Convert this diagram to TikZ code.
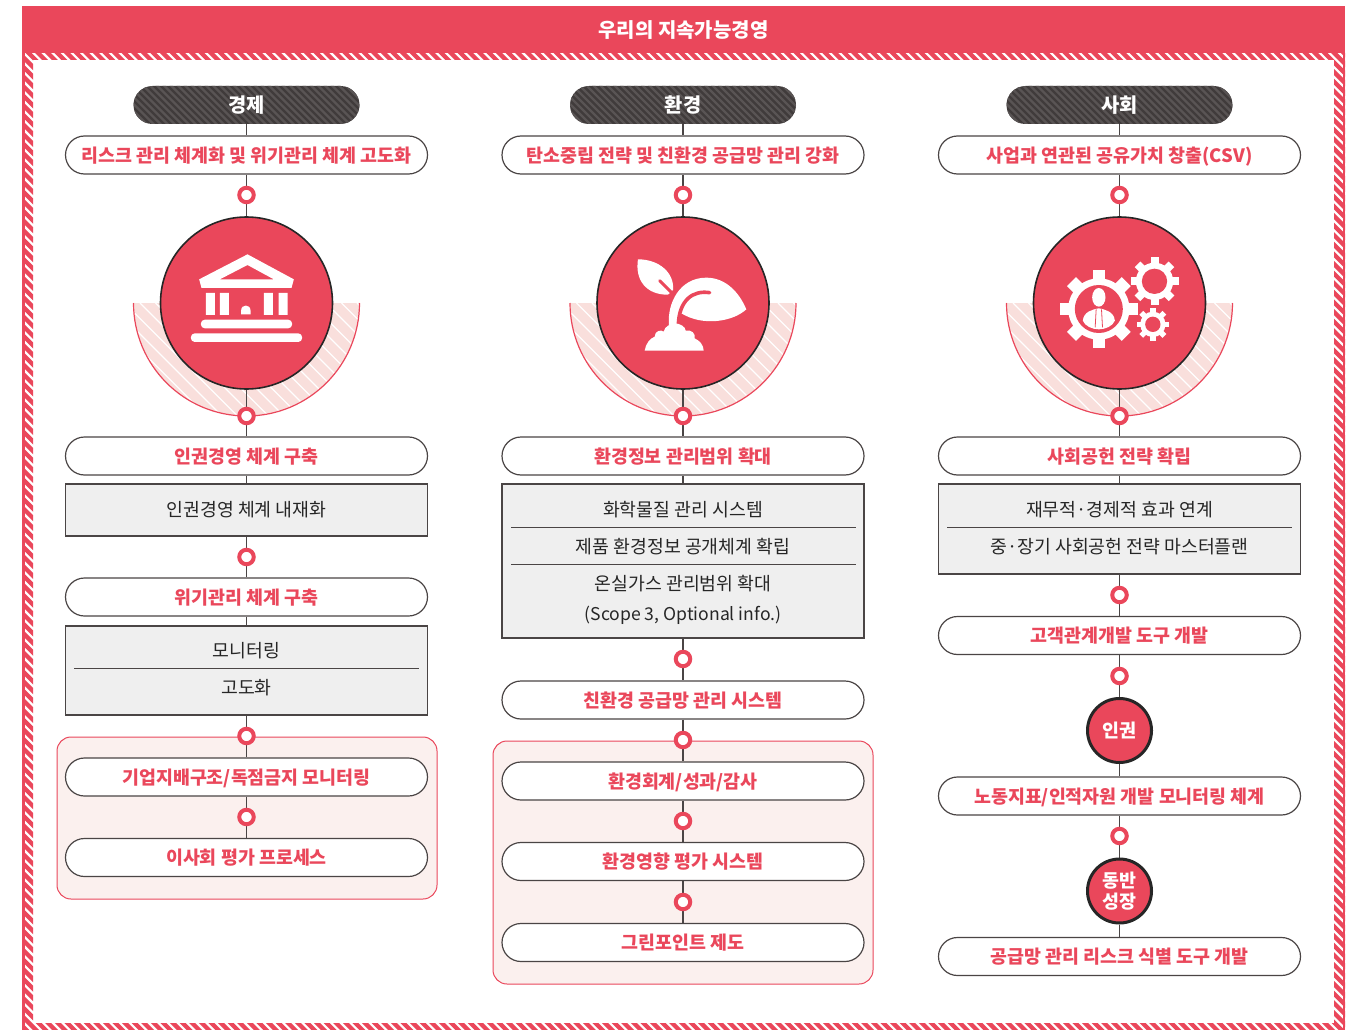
\documentclass[tikz,border=0pt]{standalone}
\usepackage{fontspec}
\setmainfont{Noto Sans CJK KR}
\usetikzlibrary{calc}
\definecolor{hred}{HTML}{EA475B}
\definecolor{hline}{HTML}{4A4545}
\definecolor{hdark}{HTML}{403B3B}
\definecolor{hstripe}{HTML}{595454}
\definecolor{hgray}{HTML}{EFEFEF}
\definecolor{hpanel}{HTML}{FBF0EE}
\definecolor{hhalf}{HTML}{F9DFDC}
\pgfdeclarelayer{under}
\pgfdeclarelayer{conn}
\pgfsetlayers{under,conn,main}
\tikzset{
  pillbox/.style={draw=hline,line width=1.2pt,fill=white,rounded corners=19pt,minimum width=362pt,minimum height=38pt,inner sep=0pt,
    text=hred,font=\fontsize{18.4}{18.4}\selectfont\bfseries,text height=16.5pt,text depth=2.5pt},
  toppill/.style={pillbox,text height=17.5pt},
  headpill/.style={fill=hdark,rounded corners=19pt,minimum width=226pt,minimum height=38pt,inner sep=0pt,text=white,
    font=\fontsize{19.8}{19.8}\selectfont\bfseries,text height=17.5pt,text depth=2.5pt,
    path picture={\foreach \i in {-18,...,18}{\draw[hstripe,line width=2.4pt] ($(path picture bounding box.center)+(\i*7-40,-40)$) -- ++(80,80);}}},
  ringnode/.style={circle,draw=hred,line width=4pt,fill=white,minimum size=14.5pt,inner sep=0pt},
  greybox/.style={draw=hline,line width=1.2pt,fill=hgray,minimum width=362pt,inner sep=0pt},
  rowtext/.style={inner sep=0pt,text=black!85,font=\fontsize{18.3}{18.3}\selectfont,text height=16.5pt,text depth=2.5pt},
  bigdisc/.style={circle,draw=black!85,line width=1.6pt,fill=hred,minimum size=172pt,inner sep=0pt},
  smalldisc/.style={circle,draw=black!85,line width=3pt,fill=hred,minimum size=64pt,inner sep=0pt,text=white,
    font=\fontsize{18.4}{21.5}\selectfont\bfseries,align=center},
  panelbox/.style={draw=hred,line width=1pt,fill=hpanel,rounded corners=14pt,minimum width=380pt,inner sep=0pt},
  linkline/.style={draw=hline,line width=1.2pt},
  seprule/.style={draw=hline,line width=0.9pt}
}
\newcommand{\halfdisc}[1]{%
  \begin{scope}
    \clip (#1-113,303) arc[start angle=180,end angle=360,radius=113pt] -- cycle;
    \fill[hhalf] (#1-114,303) rectangle (#1+114,417);
    \foreach \i in {-20,...,20}{\draw[white,line width=1.3pt] (#1+\i*15.5-60,303) -- ++(120,120);}
  \end{scope}
  \draw[hred,line width=1.2pt] (#1-113,303) arc[start angle=180,end angle=360,radius=113pt];
}
\newcommand{\gearicon}[6]{% cx cy outer root hole toothhalf
  \foreach \a in {0,45,90,135}{
    \fill[white,rotate around={\a:(#1,#2)}] (#1-#6,#2-#3) rectangle (#1+#6,#2+#3);
  }
  \fill[white] (#1,#2) circle[radius=#4];
  \fill[hred] (#1,#2) circle[radius=#5];
}
\begin{document}
\begin{tikzpicture}[x=1pt,y=-1pt]
\useasboundingbox (0,0) rectangle (1358,1030);
\begin{pgfonlayer}{under}
\fill[white] (0,0) rectangle (1358,1030);
\end{pgfonlayer}
% header and striped frame
\node[fill=hred,minimum width=1323pt,minimum height=47pt,inner sep=0pt,text=white,font=\fontsize{20}{20}\selectfont\bfseries,text height=18pt,text depth=3pt] (title) at (683.5,30) {우리의 지속가능경영};
\begin{scope}
  \clip (22,53) rectangle (1345,60) (22,53) rectangle (33,1030) (1334,53) rectangle (1345,1030) (22,1023) rectangle (1345,1030);
  \foreach \i in {0,...,250}{\draw[hred,line width=4.3pt] ({-1040+\i*9.6},50) -- ++(985,985);}
\end{scope}
\fill[hred] (22,53) rectangle (24.5,1030);
\fill[hred] (1342.5,53) rectangle (1345,1030);
% column 1
\begin{pgfonlayer}{under}
  \halfdisc{246.5}\halfdisc{683}\halfdisc{1119.5}
  \node[panelbox,minimum height=162pt] (p1) at (247,818) {};
  \node[panelbox,minimum height=243pt] (p2) at (683,862.5) {};
\end{pgfonlayer}
\node[headpill] (a0) at (246.5,105) {경제};
\node[toppill] (a1) at (246.5,155) {리스크 관리 체계화 및 위기관리 체계 고도화};
\node[ringnode] (a2) at (246.5,195) {};
\node[bigdisc] (a3) at (246.5,303) {};
\node[ringnode] (a4) at (246.5,416) {};
\node[pillbox] (a5) at (246.5,456) {인권경영 체계 구축};
\node[greybox,minimum height=52pt] (a6) at (246.5,510) {};
\node[rowtext] (a6t) at (246.5,509) {인권경영 체계 내재화};
\node[ringnode] (a7) at (246.5,557) {};
\node[pillbox] (a8) at (246.5,597) {위기관리 체계 구축};
\node[greybox,minimum height=89pt] (a9) at (246.5,670.5) {};
\draw[seprule] (74,668) -- (419,668);
\node[rowtext] (a9t) at (246.5,650) {모니터링};
\node[rowtext] (a9u) at (246.5,687) {고도화};
\node[ringnode] (a10) at (246.5,736) {};
\node[pillbox] (a11) at (246.5,777) {기업지배구조/독점금지 모니터링};
\node[ringnode] (a12) at (246.5,817) {};
\node[pillbox] (a13) at (246.5,857.5) {이사회 평가 프로세스};
% column 2
\node[headpill] (b0) at (683,105) {환경};
\node[toppill] (b1) at (683,155) {탄소중립 전략 및 친환경 공급망 관리 강화};
\node[ringnode] (b2) at (683,195) {};
\node[bigdisc] (b3) at (683,303) {};
\node[ringnode] (b4) at (683,416) {};
\node[pillbox] (b5) at (683,456) {환경정보 관리범위 확대};
\node[greybox,minimum height=154pt] (b6) at (683,561) {};
\draw[seprule] (511,527) -- (856,527);
\draw[seprule] (511,564) -- (856,564);
\node[rowtext] (b6t) at (683,509) {화학물질 관리 시스템};
\node[rowtext] (b6u) at (683,546) {제품 환경정보 공개체계 확립};
\node[rowtext] (b6v) at (683,583) {온실가스 관리범위 확대};
\node[rowtext,font=\fontsize{17.6}{18}\selectfont] (b6w) at (683,613) {(Scope 3, Optional info.)};
\node[ringnode] (b7) at (683,659) {};
\node[pillbox] (b8) at (683,700) {친환경 공급망 관리 시스템};
\node[ringnode] (b9) at (683,740) {};
\node[pillbox] (b10) at (683,781) {환경회계/성과/감사};
\node[ringnode] (b11) at (683,821) {};
\node[pillbox] (b12) at (683,861.5) {환경영향 평가 시스템};
\node[ringnode] (b13) at (683,902) {};
\node[pillbox] (b14) at (683,942.5) {그린포인트 제도};
% column 3
\node[headpill] (c0) at (1119.5,105) {사회};
\node[toppill] (c1) at (1119.5,155) {사업과 연관된 공유가치 창출(CSV)};
\node[ringnode] (c2) at (1119.5,195) {};
\node[bigdisc] (c3) at (1119.5,303) {};
\node[ringnode] (c4) at (1119.5,416) {};
\node[pillbox] (c5) at (1119.5,456) {사회공헌 전략 확립};
\node[greybox,minimum height=90pt] (c6) at (1119.5,529) {};
\draw[seprule] (947,527) -- (1292,527);
\node[rowtext] (c6t) at (1119.5,509) {재무적·경제적 효과 연계};
\node[rowtext] (c6u) at (1119.5,546) {중·장기 사회공헌 전략 마스터플랜};
\node[ringnode] (c7) at (1119.5,595) {};
\node[pillbox] (c8) at (1119.5,635.5) {고객관계개발 도구 개발};
\node[ringnode] (c9) at (1119.5,676) {};
\node[smalldisc] (c10) at (1119.5,730.5) {인권};
\node[pillbox] (c11) at (1119.5,796) {노동지표/인적자원 개발 모니터링 체계};
\node[ringnode] (c12) at (1119.5,836) {};
\node[smalldisc] (c13) at (1119.5,891) {동반\\성장};
\node[pillbox] (c14) at (1119.5,956.5) {공급망 관리 리스크 식별 도구 개발};
% connectors
\begin{pgfonlayer}{conn}
  \foreach \u/\v in {a0/a1,a1/a2,a2/a3,a3/a4,a4/a5,a5/a6,a6/a7,a7/a8,a8/a9,a9/a10,a10/a11,a11/a12,a12/a13,
                     b0/b1,b1/b2,b2/b3,b3/b4,b4/b5,b5/b6,b6/b7,b7/b8,b8/b9,b9/b10,b10/b11,b11/b12,b12/b13,b13/b14,
                     c0/c1,c1/c2,c2/c3,c3/c4,c4/c5,c5/c6,c6/c7,c7/c8,c8/c9,c9/c10,c10/c11,c11/c12,c12/c13,c13/c14}{
    \draw[linkline] (\u.south) -- (\v.north);
  }
\end{pgfonlayer}
% bank icon
\begin{scope}[shift={(246.5-380/3,303-279/3)},scale=1/3]
  \fill[white,even odd rule] (383,133) -- (522,208) -- (515,234) -- (245,234) -- (238,208) -- cycle (383,165) -- (462,208) -- (300,208) -- cycle;
  \fill[white] (258,249) rectangle (285,315) (300,249) rectangle (327,315) (432,249) rectangle (459,315) (476,249) rectangle (503,315);
  \fill[white] (364,313) -- (364,301) .. controls (364,282) and (392,282) .. (392,301) -- (392,313) -- cycle;
  \fill[white,rounded corners=4pt] (243,329) rectangle (517,355);
  \fill[white,rounded corners=4pt] (213,370) rectangle (547,396);
\end{scope}
% sprout icon
\begin{scope}[shift={(683-370/3,303-279/3)},scale=1/3]
  \fill[white] (235,148) .. controls (300,148) and (345,190) .. (340,240) -- (325,254) .. controls (260,255) and (225,210) .. (235,148) -- cycle;
  \draw[hred,line width=3pt,line cap=round] (300,212) -- (338,250);
  \fill[white] (328,345) .. controls (322,280) and (360,203) .. (440,203) .. controls (500,203) and (540,250) .. (560,298) .. controls (520,335) and (430,350) .. (365,310) -- (350,345) -- cycle;
  \draw[hred,line width=3.6pt,line cap=round] (450,248) .. controls (400,240) and (358,270) .. (356,345);
  \fill[white] (255,422) .. controls (258,400) and (272,385) .. (285,380) .. controls (285,362) and (305,358) .. (312,365) .. controls (315,350) and (330,342) .. (345,340) .. controls (360,340) and (378,350) .. (378,362) .. controls (395,358) and (408,370) .. (405,385) .. controls (420,392) and (432,405) .. (432,422) -- cycle;
\end{scope}
% gears icon
\begin{scope}[shift={(1119.5-360/3,303-279/3)},scale=1/3]
  \gearicon{298}{297}{116}{92}{72}{19}
  \gearicon{465}{214}{72}{56}{38}{12}
  \gearicon{460}{343}{49}{38}{23}{8}
  \fill[white] (298,262) ellipse[x radius=20,y radius=28];
  \fill[white] (250,332) .. controls (252,305) and (280,298) .. (298,295) .. controls (316,298) and (344,305) .. (346,332) .. controls (340,348) and (318,358) .. (298,358) .. controls (278,358) and (256,348) .. (250,332) -- cycle;
  \draw[hred,line width=0.8pt] (290,298) -- (287,352) (306,298) -- (309,352);
\end{scope}
\end{tikzpicture}
\end{document}
